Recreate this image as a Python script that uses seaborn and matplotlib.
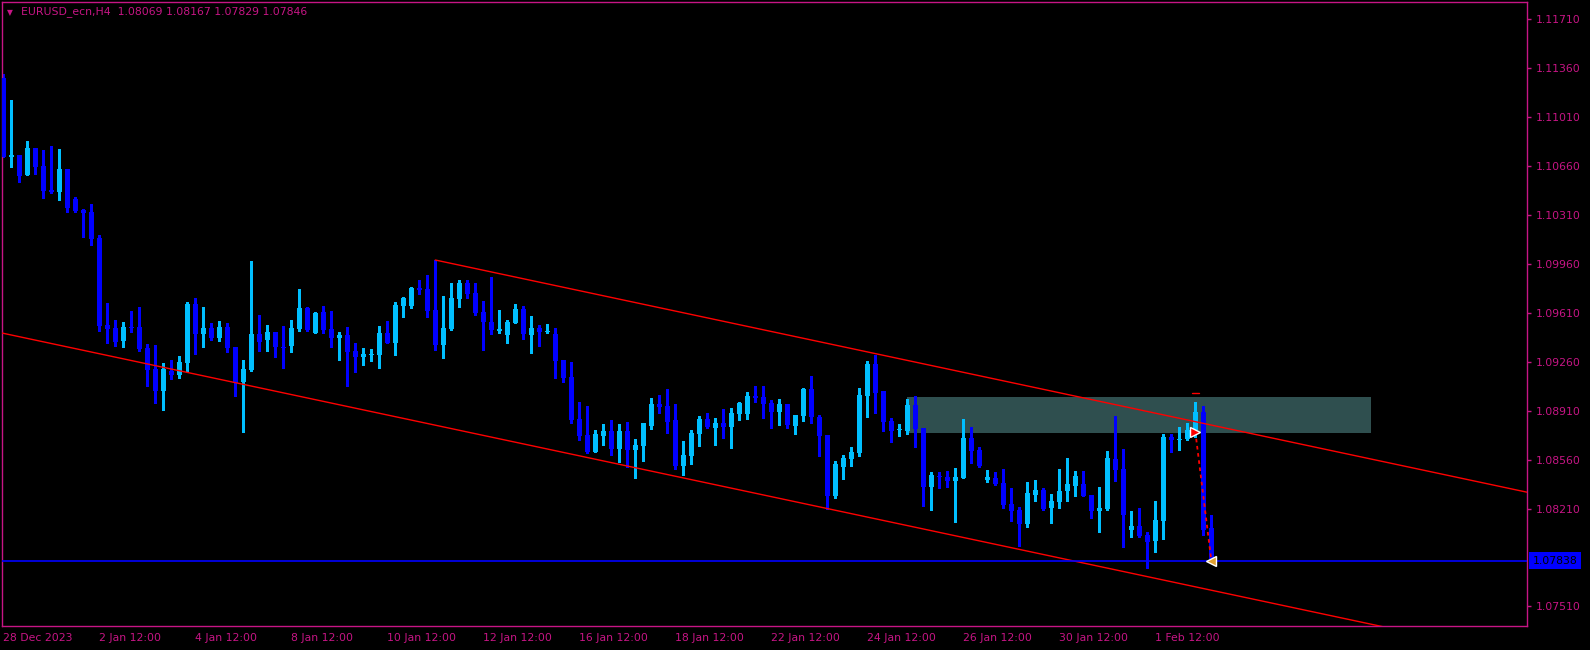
import numpy as np
import pandas as pd
import matplotlib
matplotlib.use("Agg")
import matplotlib.pyplot as plt
import seaborn as sns

sns.set_style("dark", {"axes.facecolor": "black", "figure.facecolor": "black"})
plt.rcParams['font.family'] = ['DejaVu Sans']

title = "EURUSD_ecn,H4  1.08069 1.08167 1.07829 1.07846"

opens = [
    1.11286, 1.10726, 1.10738, 1.10595, 1.10788, 1.10659, 1.10487, 1.10476, 1.10638, 1.10423,
    1.10344, 1.10330, 1.10144, 1.09520, 1.09501, 1.09408, 1.09508, 1.09508, 1.09358, 1.09207,
    1.09050, 1.09193, 1.09165, 1.09250, 1.09672, 1.09458, 1.09501, 1.09429, 1.09508, 1.09365,
    1.09115, 1.09200, 1.09458, 1.09415, 1.09472, 1.09365, 1.09372, 1.09494, 1.09644, 1.09465,
    1.09615, 1.09494, 1.09429, 1.09451, 1.09336, 1.09293, 1.09310, 1.09308, 1.09465, 1.09393,
    1.09658, 1.09658, 1.09787, 1.09780, 1.09629, 1.09379, 1.09494, 1.09708, 1.09822, 1.09751,
    1.09615, 1.09544, 1.09479, 1.09451, 1.09536, 1.09637, 1.09451, 1.09501, 1.09472, 1.09458,
    1.09272, 1.09150, 1.08850, 1.08736, 1.08614, 1.08728, 1.08764, 1.08635, 1.08764, 1.08628,
    1.08657, 1.08800, 1.08957, 1.08943, 1.08843, 1.08514, 1.08585, 1.08743, 1.08850, 1.08786,
    1.08821, 1.08793, 1.08886, 1.08886, 1.09014, 1.09007, 1.08964, 1.08900, 1.08957, 1.08800,
    1.08871, 1.09064, 1.08864, 1.08736, 1.08299, 1.08507, 1.08564, 1.08607, 1.09014, 1.09243,
    1.09050, 1.08836, 1.08769, 1.08764, 1.08950, 1.08786, 1.08364, 1.08438, 1.08435, 1.08407,
    1.08428, 1.08714, 1.08628, 1.08414, 1.08428, 1.08392, 1.08242, 1.08199, 1.08099, 1.08307,
    1.08342, 1.08214, 1.08256, 1.08335, 1.08371, 1.08385, 1.08307, 1.08192, 1.08206, 1.08564,
    1.08492, 1.08056, 1.08085, 1.08020, 1.07978, 1.08121, 1.08721, 1.08702, 1.08707, 1.08771,
    1.08900, 1.08069,
]
highs = [
    1.11317, 1.11131, 1.10738, 1.10838, 1.10788, 1.10773, 1.10802, 1.10781, 1.10638, 1.10437,
    1.10352, 1.10387, 1.10166, 1.09679, 1.09558, 1.09544, 1.09622, 1.09651, 1.09386, 1.09379,
    1.09250, 1.09272, 1.09300, 1.09687, 1.09715, 1.09651, 1.09536, 1.09551, 1.09536, 1.09365,
    1.09272, 1.09980, 1.09594, 1.09522, 1.09472, 1.09515, 1.09558, 1.09780, 1.09651, 1.09615,
    1.09658, 1.09622, 1.09472, 1.09508, 1.09393, 1.09358, 1.09350, 1.09515, 1.09551, 1.09687,
    1.09722, 1.09794, 1.09844, 1.09880, 1.09987, 1.09729, 1.09822, 1.09844, 1.09844, 1.09822,
    1.09694, 1.09865, 1.09629, 1.09558, 1.09672, 1.09658, 1.09586, 1.09522, 1.09529, 1.09501,
    1.09272, 1.09258, 1.08972, 1.08943, 1.08771, 1.08814, 1.08843, 1.08814, 1.08829, 1.08707,
    1.08821, 1.09000, 1.09022, 1.09064, 1.08957, 1.08693, 1.08771, 1.08871, 1.08893, 1.08857,
    1.08921, 1.08929, 1.08972, 1.09043, 1.09086, 1.09086, 1.08986, 1.08993, 1.08957, 1.08879,
    1.09072, 1.09157, 1.08879, 1.08736, 1.08550, 1.08593, 1.08650, 1.09072, 1.09265, 1.09308,
    1.09050, 1.08857, 1.08814, 1.08993, 1.09014, 1.08786, 1.08471, 1.08471, 1.08478, 1.08500,
    1.08850, 1.08793, 1.08650, 1.08485, 1.08471, 1.08492, 1.08357, 1.08221, 1.08399, 1.08414,
    1.08357, 1.08314, 1.08492, 1.08571, 1.08478, 1.08478, 1.08307, 1.08364, 1.08621, 1.08871,
    1.08635, 1.08192, 1.08214, 1.08042, 1.08264, 1.08743, 1.08743, 1.08793, 1.08821, 1.08972,
    1.08943, 1.08167,
]
lows = [
    1.10721, 1.10654, 1.10547, 1.10595, 1.10604, 1.10433, 1.10464, 1.10418, 1.10333, 1.10333,
    1.10151, 1.10094, 1.09482, 1.09393, 1.09374, 1.09367, 1.09474, 1.09339, 1.09086, 1.08967,
    1.08917, 1.09136, 1.09143, 1.09193, 1.09315, 1.09365, 1.09415, 1.09408, 1.09329, 1.09014,
    1.08757, 1.09193, 1.09336, 1.09336, 1.09293, 1.09215, 1.09329, 1.09479, 1.09479, 1.09465,
    1.09465, 1.09365, 1.09272, 1.09086, 1.09186, 1.09236, 1.09265, 1.09215, 1.09393, 1.09308,
    1.09579, 1.09644, 1.09744, 1.09579, 1.09343, 1.09286, 1.09486, 1.09651, 1.09715, 1.09594,
    1.09343, 1.09458, 1.09465, 1.09393, 1.09536, 1.09422, 1.09322, 1.09372, 1.09465, 1.09143,
    1.09115, 1.08821, 1.08700, 1.08607, 1.08614, 1.08664, 1.08593, 1.08543, 1.08507, 1.08428,
    1.08550, 1.08779, 1.08893, 1.08750, 1.08492, 1.08450, 1.08528, 1.08657, 1.08786, 1.08664,
    1.08714, 1.08643, 1.08843, 1.08850, 1.08972, 1.08857, 1.08786, 1.08807, 1.08786, 1.08743,
    1.08836, 1.08821, 1.08585, 1.08206, 1.08285, 1.08421, 1.08514, 1.08585, 1.08864, 1.08893,
    1.08764, 1.08686, 1.08728, 1.08743, 1.08650, 1.08228, 1.08199, 1.08357, 1.08364, 1.08113,
    1.08428, 1.08535, 1.08507, 1.08399, 1.08378, 1.08214, 1.08121, 1.07942, 1.08078, 1.08264,
    1.08199, 1.08106, 1.08214, 1.08264, 1.08299, 1.08299, 1.08142, 1.08042, 1.08199, 1.08407,
    1.07935, 1.08006, 1.08006, 1.07785, 1.07899, 1.07992, 1.08614, 1.08628, 1.08700, 1.08721,
    1.08020, 1.07829,
]
closes = [
    1.10721, 1.10738, 1.10590, 1.10788, 1.10654, 1.10480, 1.10476, 1.10638, 1.10361, 1.10337,
    1.10323, 1.10137, 1.09517, 1.09494, 1.09403, 1.09508, 1.09503, 1.09350, 1.09203, 1.09050,
    1.09207, 1.09165, 1.09258, 1.09672, 1.09458, 1.09501, 1.09429, 1.09508, 1.09358, 1.09107,
    1.09207, 1.09458, 1.09401, 1.09472, 1.09365, 1.09360, 1.09501, 1.09644, 1.09486, 1.09608,
    1.09486, 1.09429, 1.09451, 1.09329, 1.09293, 1.09315, 1.09315, 1.09465, 1.09393, 1.09665,
    1.09715, 1.09787, 1.09772, 1.09622, 1.09379, 1.09501, 1.09715, 1.09822, 1.09744, 1.09608,
    1.09544, 1.09486, 1.09494, 1.09544, 1.09637, 1.09458, 1.09501, 1.09472, 1.09477, 1.09265,
    1.09143, 1.08843, 1.08728, 1.08614, 1.08743, 1.08764, 1.08635, 1.08764, 1.08628, 1.08664,
    1.08821, 1.08957, 1.08936, 1.08829, 1.08514, 1.08593, 1.08750, 1.08850, 1.08793, 1.08821,
    1.08793, 1.08893, 1.08964, 1.09014, 1.09000, 1.08957, 1.08900, 1.08957, 1.08807, 1.08879,
    1.09064, 1.08864, 1.08728, 1.08299, 1.08528, 1.08571, 1.08614, 1.09022, 1.09243, 1.09036,
    1.08829, 1.08764, 1.08774, 1.08950, 1.08779, 1.08364, 1.08450, 1.08433, 1.08407, 1.08435,
    1.08714, 1.08621, 1.08514, 1.08435, 1.08385, 1.08235, 1.08192, 1.08099, 1.08321, 1.08342,
    1.08206, 1.08264, 1.08335, 1.08385, 1.08442, 1.08299, 1.08192, 1.08214, 1.08571, 1.08485,
    1.08164, 1.08085, 1.08013, 1.07971, 1.08128, 1.08721, 1.08700, 1.08707, 1.08771, 1.08900,
    1.08056, 1.07846,
]

time_ticks = [0, 12, 24, 36, 48, 60, 72, 84, 96, 108, 120, 132, 144]
time_labels = ["28 Dec 2023", "2 Jan 12:00", "4 Jan 12:00", "8 Jan 12:00", "10 Jan 12:00",
               "12 Jan 12:00", "16 Jan 12:00", "18 Jan 12:00", "22 Jan 12:00", "24 Jan 12:00",
               "26 Jan 12:00", "30 Jan 12:00", "1 Feb 12:00"]
price_ticks = [1.07510, 1.08210, 1.08560, 1.08910, 1.09260, 1.09610, 1.09960,
               1.10310, 1.10660, 1.11010, 1.11360, 1.11710]

upper_bars = [54, 150]
upper_prices = [1.09987, 1.08819]
lower_bars = [0, 150]
lower_prices = [1.09463, 1.07638]
zone_bars = [113, 171]
zone_prices = [1.08752, 1.09007]
bid = 1.07838
trade_bars = [149, 151]
trade_prices = [1.08760, 1.07838]
stop_bar = 149
stop_price = 1.09036

mag = "#C71585"
bull = "#00BFFF"
bear = "#0000FF"

df = pd.DataFrame({"open": opens, "high": highs, "low": lows, "close": closes})
df["bar"] = np.arange(len(df))
df["color"] = np.where(df["close"] > df["open"], bull, bear)

fig = plt.figure(figsize=(15.9, 6.5), dpi=100)
ax = fig.add_axes([2 / 1590, 24 / 650, 1525 / 1590, 624 / 650])
ax.set_facecolor("black")
x_lo, x_hi = -0.16, 190.46
ax.set_xlim(x_lo, x_hi)
ax.set_ylim(1.07370, 1.11832)

# zone rectangle behind the candles
ax.fill_between(zone_bars, zone_prices[0], zone_prices[1], color="#2F4F4F", lw=0, zorder=1)

# candles
px = 0.72
ax.vlines(df["bar"], df["low"], df["high"], colors=df["color"], lw=1.0, zorder=2, antialiased=False)
body_lo = np.minimum(df["open"], df["close"])
body_h = np.maximum((df["close"] - df["open"]).abs(), 0.00008)
ax.bar(df["bar"], body_h, bottom=body_lo, width=0.62, color=df["color"], lw=0,
       antialiased=False, zorder=3)

# channel
slope = (upper_prices[1] - upper_prices[0]) / (upper_bars[1] - upper_bars[0])
sns.lineplot(x=[upper_bars[0], x_hi], y=[upper_prices[0], upper_prices[0] + slope * (x_hi - upper_bars[0])],
             color="red", lw=1.0, ax=ax, zorder=4)
slope2 = (lower_prices[1] - lower_prices[0]) / (lower_bars[1] - lower_bars[0])
sns.lineplot(x=[x_lo, x_hi], y=[lower_prices[0] + slope2 * (x_lo - lower_bars[0]),
                                lower_prices[0] + slope2 * (x_hi - lower_bars[0])],
             color="red", lw=1.0, ax=ax, zorder=4)

# bid line
ax.axhline(bid, color="#0000FF", lw=1.2, zorder=4)

# trade
ax.plot(trade_bars, trade_prices, color="red", lw=1.3, ls=(0, (2, 2)), zorder=5)
ax.plot([stop_bar - 0.4, stop_bar + 0.4], [stop_price, stop_price], color="red", lw=1.0, zorder=5)
ax.plot(trade_bars[0], trade_prices[0], marker=">", ms=7, color="red", mec="white", mew=1, zorder=6)
ax.plot(trade_bars[1], trade_prices[1], marker="<", ms=7, color="#E0A030", mec="white", mew=1, zorder=6)

# axes styling
for s in ax.spines.values():
    s.set_color(mag)
    s.set_linewidth(1.0)
    s.set_visible(True)
ax.grid(False)
ax.yaxis.tick_right()
ax.set_yticks(price_ticks, [f"{p:.5f}" for p in price_ticks])
ax.set_xticks(time_ticks, time_labels, ha="left")
ax.tick_params(axis="both", colors=mag, labelcolor=mag, labelsize=7.8, length=3, width=1, direction="out")
ax.tick_params(axis="x", pad=2)
ax.tick_params(axis="y", pad=3)

ax.text(1.0035, bid, f"{bid:.5f}", transform=ax.get_yaxis_transform(), fontsize=7.8,
        color="black", va="center", ha="left", clip_on=False,
        bbox=dict(boxstyle="square,pad=0.35", fc="#0000FF", ec="none"))

fig.text(7 / 1590, 1 - 12.5 / 650, "\u25BC", fontsize=5.5, color=mag, va="center")
fig.text(21 / 1590, 1 - 12 / 650, title, fontsize=7.8, color=mag, va="center")

fig.savefig("out.png", dpi=100, facecolor="black")
